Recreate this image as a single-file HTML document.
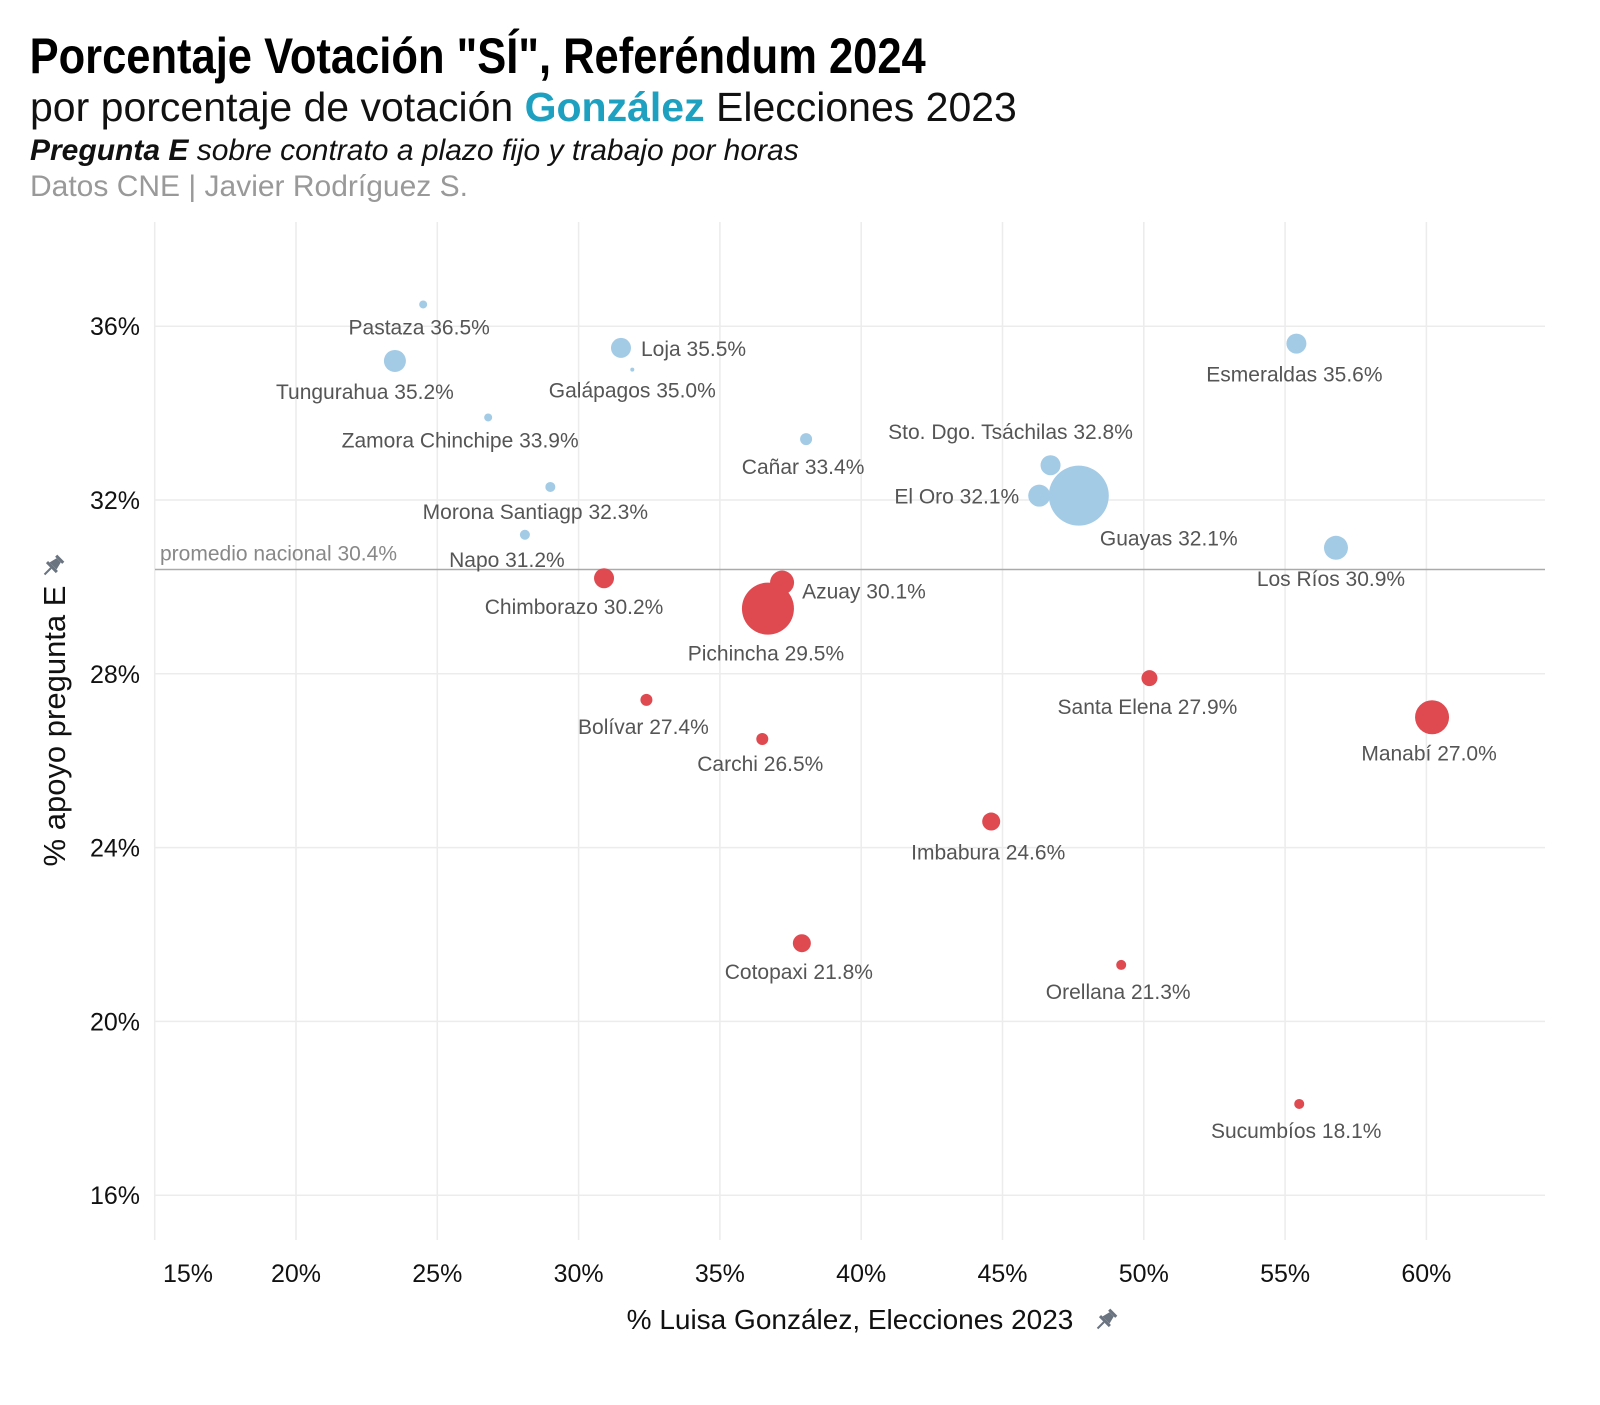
<!DOCTYPE html>
<html><head><meta charset="utf-8">
<style>
body{margin:0;background:#fff;width:1600px;height:1400px;overflow:hidden;font-family:"Liberation Sans",sans-serif}
svg text{font-family:"Liberation Sans",sans-serif}
.lbl{font-family:"Liberation Sans Narrow","Liberation Sans",sans-serif;font-size:21px;fill:#555}
</style></head><body>
<svg id="chart" width="1600" height="1400" xmlns="http://www.w3.org/2000/svg">
<text x="34" y="73" font-size="50" font-weight="bold" fill="#000" transform="scale(0.87,1)">Porcentaje Votación "SÍ", Referéndum 2024</text>
<text x="30" y="121" font-size="41" fill="#111">por porcentaje de votación <tspan fill="#1ea0c0" font-weight="bold">González</tspan> Elecciones 2023</text>
<text x="30" y="160" font-size="30" font-style="italic" fill="#111"><tspan font-weight="bold">Pregunta E</tspan> sobre contrato a plazo fijo y trabajo por horas</text>
<text x="30" y="196" font-size="30" fill="#999">Datos CNE | Javier Rodríguez S.</text>
<g id="grid"></g>
<g id="marks"></g>
<text x="850" y="1329" font-size="28" text-anchor="middle" fill="#111">% Luisa González, Elecciones 2023</text>
<g transform="translate(1106,1320) rotate(45)" fill="#6a7380"><rect x="-5" y="-11" width="10" height="3"/><path d="M-3 -8 h6 l2 8 h-10 z"/><rect x="-7" y="0" width="14" height="3"/><rect x="-1" y="3" width="2" height="9"/></g>
<text transform="translate(65,726) rotate(-90)" font-size="31" text-anchor="middle" fill="#111">% apoyo pregunta E</text>
<g transform="translate(53,566) rotate(45)" fill="#6a7380"><rect x="-5" y="-11" width="10" height="3"/><path d="M-3 -8 h6 l2 8 h-10 z"/><rect x="-7" y="0" width="14" height="3"/><rect x="-1" y="3" width="2" height="9"/></g>
</svg>
<script>
const names=["Pastaza","Tungurahua","Loja","Galápagos","Zamora Chinchipe","Cañar","Morona Santiagp","Napo","Esmeraldas","Sto. Dgo. Tsáchilas","El Oro","Guayas","Los Ríos","Chimborazo","Azuay","Pichincha","Santa Elena","Manabí","Bolívar","Carchi","Imbabura","Cotopaxi","Orellana","Sucumbíos"];
const gonzalez=[24.5,23.5,31.5,31.9,26.8,38.05,29.0,28.1,55.4,46.7,46.3,47.7,56.8,30.9,37.2,36.7,50.2,60.2,32.4,36.5,44.6,37.9,49.2,55.5];
const apoyo=[36.5,35.2,35.5,35.0,33.9,33.4,32.3,31.2,35.6,32.8,32.1,32.1,30.9,30.2,30.1,29.5,27.9,27.0,27.4,26.5,24.6,21.8,21.3,18.1];
const sizes=[4,11,10,2,4,6,5,5,10,10,11,30,12,10,12,26,8,17,6,6,9,9,5,5];
const xTicks=[15,20,25,30,35,40,45,50,55,60];
const yTicks=[16,20,24,28,32,36];
const promedio=30.4;
// label placement: [dx,dy,anchor]
const lpos=[[-4,30,"middle"],[-30,38,"middle"],[20,8,"start"],[0,28,"middle"],[-28,30,"middle"],[-3,35,"middle"],[-15,32,"middle"],[-18,32,"middle"],[-2,38,"middle"],[-40,-26,"middle"],[-20,8,"end"],[90,50,"middle"],[-5,38,"middle"],[-30,36,"middle"],[20,16,"start"],[-2,52,"middle"],[-2,36,"middle"],[-3,43,"middle"],[-3,34,"middle"],[-2,32,"middle"],[-3,38,"middle"],[-3,36,"middle"],[-3,34,"middle"],[-3,34,"middle"]];
const X=v=>296+(v-20)*28.26, Y=v=>500-(v-32)*43.45;
const NS="http://www.w3.org/2000/svg";
function mk(t,a,p){const e=document.createElementNS(NS,t);for(const k in a)e.setAttribute(k,a[k]);p.appendChild(e);return e;}
const g=document.getElementById('grid'),m=document.getElementById('marks');
for(let v=15;v<=64;v+=5){const l=mk('line',{x1:X(v),x2:X(v),y1:222,y2:1240,stroke:'#ececec','stroke-width':1.5},g);

}
[16,20,24,28,32,36].forEach(v=>{const l=mk('line',{x1:155,x2:1545,y1:Y(v),y2:Y(v),stroke:'#ececec','stroke-width':1.5},g);

});
xTicks.forEach(v=>{const t=mk('text',{x:v===15?188:X(v),y:1282,'font-size':25,'text-anchor':'middle',fill:'#111'},g);t.textContent=v+'%';

});
yTicks.forEach(v=>{const t=mk('text',{x:140,y:Y(v)+9,'font-size':25,'text-anchor':'end',fill:'#111'},g);t.textContent=v+'%';

});
const ml=mk('line',{x1:155,x2:1545,y1:Y(promedio),y2:Y(promedio),stroke:'#aaa','stroke-width':1.5},g);


const mt=mk('text',{x:160,y:Y(promedio)-9,'font-size':21,fill:'#888',class:'lbl'},g);mt.textContent='promedio nacional '+promedio.toFixed(1)+'%';mt.style.fill='#888';


const order=names.map((n,i)=>i).sort((a,b)=>sizes[b]-sizes[a]);
order.forEach(i=>{const c=mk('circle',{cx:X(gonzalez[i]),cy:Y(apoyo[i]),r:sizes[i],fill:apoyo[i]>promedio?'#a3cbe6':'#de4a50'},m);

});
names.forEach((n,i)=>{const p=lpos[i];const t=mk('text',{x:X(gonzalez[i])+p[0],y:Y(apoyo[i])+p[1],'text-anchor':p[2],class:'lbl'},m);t.textContent=n+' '+apoyo[i].toFixed(1)+'%';

});
</script>
</body></html>
